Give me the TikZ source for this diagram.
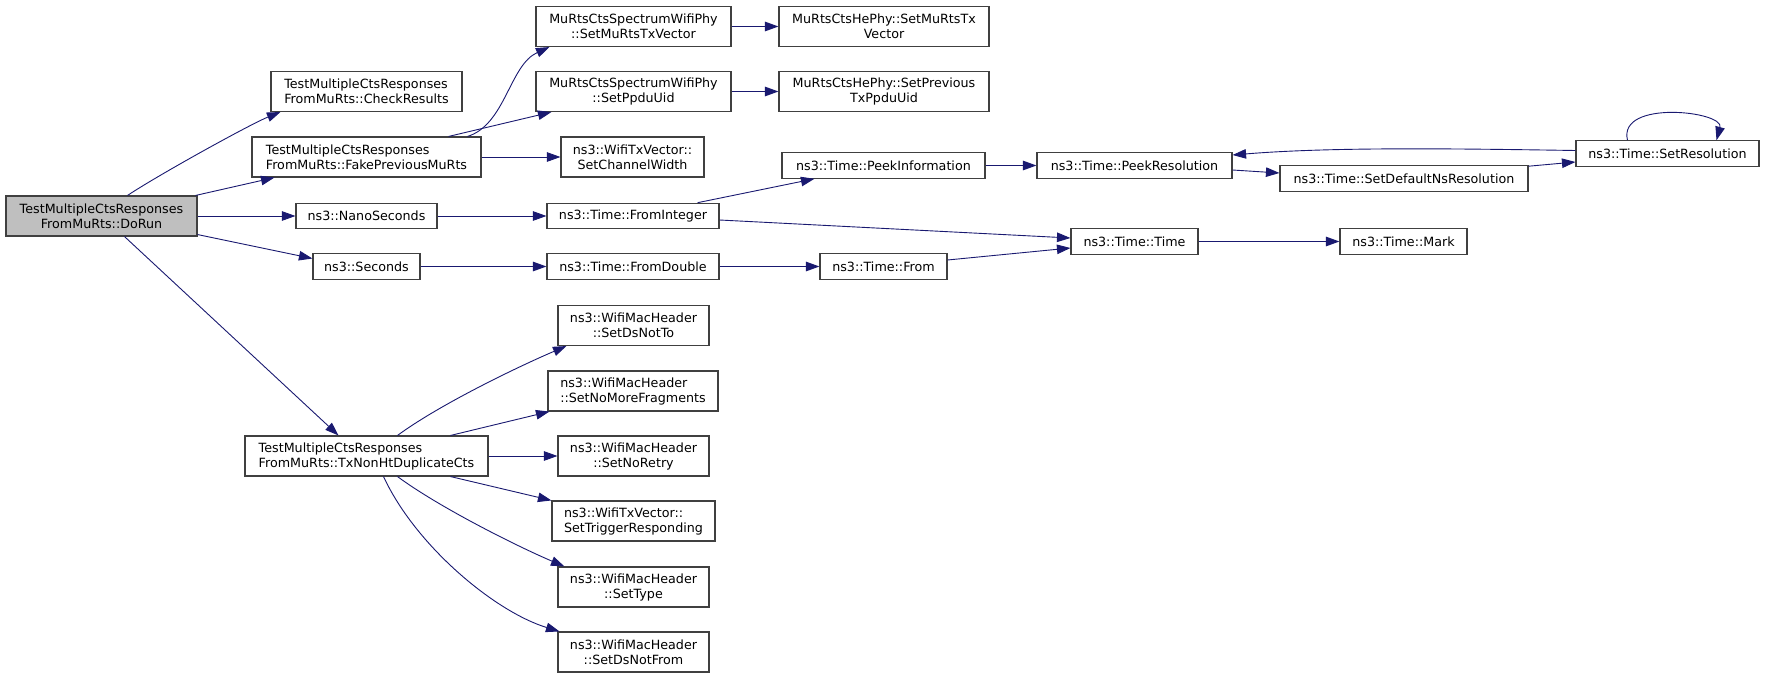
\documentclass[tikz,border=0pt]{standalone}
\usepackage{fontspec}
\setmainfont{DejaVu Sans}
\usepackage{xcolor}
\usepackage{tikz}
\usetikzlibrary{arrows.meta}
\definecolor{calledge}  {RGB}{25,25,112}
\definecolor{fnborder}  {RGB}{64,64,64}
\definecolor{rootgray}  {RGB}{191,191,191}
\tikzset{
  fnbox/.style={draw=fnborder, fill=white, line width=1.1pt, inner sep=0pt,
                minimum width=#1, minimum height=25.5pt, align=center,
                font=\fontsize{12.7}{15}\selectfont},
  fnbox/.default=120pt,
  fnbox2/.style ={fnbox=#1, minimum height=40pt},
  fnleft/.style ={fnbox2=#1, align=left},
  rootbox/.style={fnbox2=#1, fill=rootgray},
  arr/.style    ={-{Triangle[length=13.5pt,width=9.5pt]}, draw=calledge,
                  line width=0.9pt},
}
\begin{document}
\begin{tikzpicture}[x=1pt,y=-1pt]
  \useasboundingbox (0,0) rectangle (1765,677);
  \node[rootbox=191pt] (dorun) at (101.5,216)
        {TestMultipleCtsResponses\\FromMuRts::DoRun};

  \node[fnleft=191pt] (check) at (366.5,91.5)
        {TestMultipleCtsResponses\\FromMuRts::CheckResults};
  \node[fnleft=229pt] (fake) at (366.5,157)
        {TestMultipleCtsResponses\\FromMuRts::FakePreviousMuRts};
  \node[fnbox=141pt] (nano) at (366.5,216) {ns3::NanoSeconds};
  \node[fnbox=107pt] (secs) at (366.5,266.5) {ns3::Seconds};
  \node[fnleft=243pt] (txdup) at (366.5,456)
        {TestMultipleCtsResponses\\FromMuRts::TxNonHtDuplicateCts};

  \node[fnbox2=195pt] (specmurts) at (633.5,26.5)
        {MuRtsCtsSpectrumWifiPhy\\::SetMuRtsTxVector};
  \node[fnbox2=195pt] (specppdu) at (633.5,91.5)
        {MuRtsCtsSpectrumWifiPhy\\::SetPpduUid};
  \node[fnbox2=143pt] (chwidth) at (632.5,157) {ns3::WifiTxVector::\\SetChannelWidth};
  \node[fnbox=172pt] (fromint) at (633,216) {ns3::Time::FromInteger};
  \node[fnbox=172pt] (fromdbl) at (633,266.5) {ns3::Time::FromDouble};
  \node[fnbox2=151pt] (dsnotto) at (633.5,325.5) {ns3::WifiMacHeader\\::SetDsNotTo};
  \node[fnleft=170pt] (nomore) at (633,391) {ns3::WifiMacHeader\\::SetNoMoreFragments};
  \node[fnbox2=151pt] (noretry) at (633.5,456) {ns3::WifiMacHeader\\::SetNoRetry};
  \node[fnleft=163pt] (trigresp) at (633.5,521) {ns3::WifiTxVector::\\SetTriggerResponding};
  \node[fnbox2=151pt] (settype) at (633.5,587) {ns3::WifiMacHeader\\::SetType};
  \node[fnbox2=151pt] (dsnotfrom) at (633.5,652) {ns3::WifiMacHeader\\::SetDsNotFrom};

  \node[fnbox2=210pt] (hemurts) at (884,26.5) {MuRtsCtsHePhy::SetMuRtsTx\\Vector};
  \node[fnbox2=210pt] (heppdu) at (884,91.5) {MuRtsCtsHePhy::SetPrevious\\TxPpduUid};
  \node[fnbox=203pt] (peekinfo) at (883.5,165.5) {ns3::Time::PeekInformation};
  \node[fnbox=127pt] (from) at (883.5,266.5) {ns3::Time::From};

  \node[fnbox=195pt] (peekres) at (1134.5,165.5) {ns3::Time::PeekResolution};
  \node[fnbox=127pt] (ctor) at (1134.5,241.5) {ns3::Time::Time};
  \node[fnbox=248pt] (setdefns) at (1404,178.5) {ns3::Time::SetDefaultNsResolution};
  \node[fnbox=127pt] (mark) at (1403.5,241.5) {ns3::Time::Mark};
  \node[fnbox=183pt] (setres) at (1667.5,153.5) {ns3::Time::SetResolution};

  \draw[arr]([xshift=26pt]dorun.north) .. controls +(30,-20) and +(-30,12)
            .. ([xshift=10pt]check.south west);
  \draw[arr]([xshift=-2pt]dorun.north east)--([xshift=23pt]fake.south west);
  \draw[arr](dorun)--(nano);
  \draw[arr]([yshift=2pt]dorun.south east)--([yshift=8pt]secs.west);
  \draw[arr]([xshift=23pt]dorun.south)--([xshift=-28pt]txdup.north);

  \draw[arr]([xshift=-14pt]fake.north east) .. controls +(38,-12) and +(-40,18)
            .. ([xshift=14pt]specmurts.south west);
  \draw[arr]([xshift=-33pt]fake.north east)--([xshift=16pt]specppdu.south west);
  \draw[arr](fake)--(chwidth);\draw[arr](specmurts)--(hemurts);
  \draw[arr](specppdu)--(heppdu);
  \draw[arr](nano)--(fromint);\draw[arr](secs)--(fromdbl);
  \draw[arr]([xshift=-22pt]fromint.north east)--([xshift=33pt]peekinfo.south west);
  \draw[arr]([yshift=-4pt]fromint.east)--([yshift=3.5pt]ctor.west);
  \draw[arr](fromdbl)--(from);
  \draw[arr]([yshift=6.5pt]from.east)--([yshift=-6.5pt]ctor.west);
  \draw[arr](peekinfo)--(peekres);\draw[arr](ctor)--(mark);
  \draw[arr]([yshift=-4.5pt]peekres.east)--([yshift=5.5pt]setdefns.west);
  \draw[arr]([yshift=-1pt]setdefns.north east)--([yshift=-8.5pt]setres.west);
  \draw[arr]([yshift=3pt]setres.west) .. controls +(-126,-2) and +(98,-8)
            .. ([yshift=10.5pt]peekres.east);
  \draw[arr]([xshift=-40pt]setres.north) .. controls +(-10,-41) and +(8,-29)
            .. ([xshift=49pt]setres.north);

  \draw[arr]([xshift=31pt]txdup.north) .. controls +(42,-31) and +(-47,20)
            .. ([xshift=9pt]dsnotto.south west);
  \draw[arr]([xshift=84pt]txdup.north)--([xshift=2pt]nomore.south west);
  \draw[arr](txdup)--(noretry);
  \draw[arr]([xshift=84pt]txdup.south)--(trigresp.north west);
  \draw[arr]([xshift=31pt]txdup.south) .. controls +(42,31) and +(-47,-20)
            .. ([xshift=7pt]settype.north west);
  \draw[arr]([xshift=17pt]txdup.south) .. controls +(32,69) and +(-65,-20)
            .. ([xshift=2pt]dsnotfrom.north west);
\end{tikzpicture}
\end{document}
